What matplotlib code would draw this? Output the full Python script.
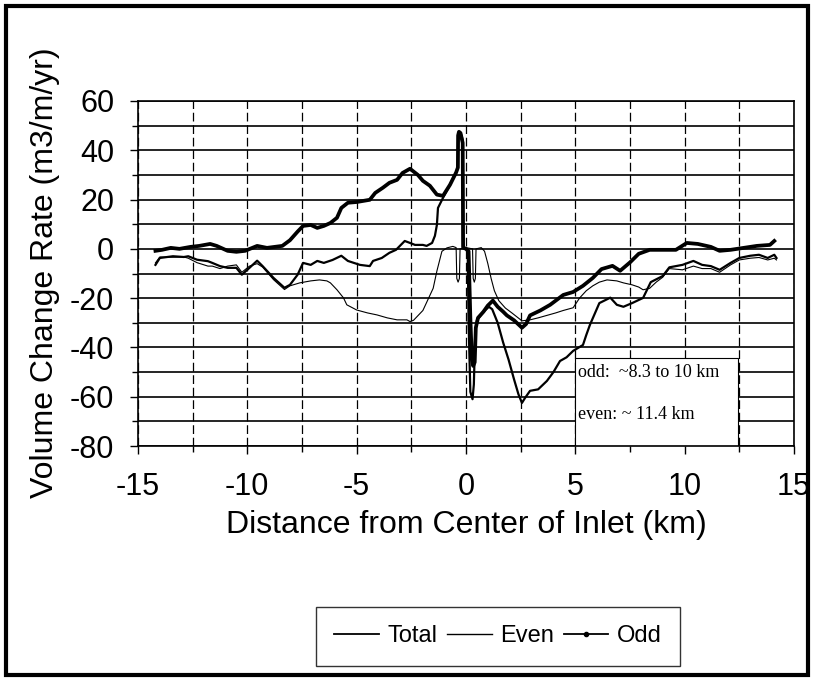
import matplotlib.pyplot as plt
from matplotlib.patches import Rectangle
from matplotlib.lines import Line2D
from matplotlib.ticker import MultipleLocator

plt.rcParams['font.family'] = ['Liberation Sans', 'DejaVu Sans']
plt.rcParams['axes.unicode_minus'] = False

# valores (km, m3/m/yr)
odd_x = [-14.2, -13.9, -13.5, -13.1, -12.6, -12.2, -11.7, -11.4, -10.9, -10.5,
         -10.1, -9.55, -9.1, -8.4, -8.05, -7.7, -7.45, -7.1, -6.8, -6.5,
         -6.2, -5.9, -5.7, -5.4, -5.0, -4.4, -4.15, -3.8, -3.5, -3.15,
         -2.9, -2.56, -2.2, -1.97, -1.65, -1.33, -1.05, -0.73, -0.45, -0.37,
         -0.36, -0.32, -0.25, -0.2, -0.15, -0.13, 0.0, 0.12, 0.2, 0.27,
         0.33, 0.4, 0.45, 0.55, 0.8, 1.0, 1.23, 1.45, 1.7, 1.87,
         2.2, 2.56, 2.75, 2.93, 3.4, 3.85, 4.45, 4.9, 5.35, 5.8,
         6.2, 6.7, 7.05, 7.5, 7.9, 8.4, 9.0, 9.6, 10.1, 10.6,
         11.2, 11.6, 12.1, 12.7, 13.3, 13.9, 14.1]
odd_y = [-0.8, -0.4, 0.4, 0.0, 0.8, 1.2, 2.0, 1.2, -0.8, -1.2,
         -0.8, 1.2, 0.4, 1.2, 3.5, 7.0, 9.3, 9.7, 8.5, 9.3,
         10.5, 12.6, 16.6, 18.7, 19.0, 19.9, 22.7, 24.8, 26.8, 28.0,
         30.8, 32.5, 30.0, 27.6, 25.6, 22.0, 21.5, 26.0, 31.0, 33.0,
         46.0, 47.5, 47.0, 45.0, 43.0, 0.5, 0.0, -1.0, -28.0, -45.0,
         -47.5, -46.0, -32.0, -28.0, -25.5, -23.0, -21.0, -23.5, -25.5, -27.0,
         -29.0, -32.0, -30.5, -27.0, -25.0, -22.7, -18.7, -17.5, -15.0, -11.8,
         -8.2, -6.9, -8.9, -5.5, -2.0, -0.4, -0.4, -0.4, 2.4, 2.0,
         0.8, -0.8, -0.4, 0.4, 1.2, 1.6, 3.2]

even_x = [-14.2, -14.0, -13.4, -12.9, -12.7, -12.3, -11.8, -11.6, -11.25, -10.9,
          -10.5, -10.25, -9.9, -9.55, -9.3, -8.8, -8.3, -8.05, -7.6, -7.1,
          -6.7, -6.36, -6.2, -5.9, -5.6, -5.45, -5.0, -4.5, -4.07, -3.6,
          -3.15, -2.7, -2.56, -2.4, -1.97, -1.5, -1.33, -1.1, -0.87, -0.6,
          -0.45, -0.42, -0.36, -0.3, -0.27, 0.0, 0.3, 0.33, 0.38, 0.43,
          0.46, 0.7, 0.85, 1.0, 1.15, 1.3, 1.5, 1.8, 2.1, 2.56,
          2.93, 3.3, 3.7, 4.1, 4.45, 4.9, 5.2, 5.5, 5.8, 6.1,
          6.45, 6.9, 7.2, 7.6, 7.9, 8.1, 8.4, 8.7, 9.0, 9.3,
          9.9, 10.4, 10.8, 11.2, 11.6, 12.1, 12.5, 13.0, 13.4, 13.8,
          14.1, 14.2]
even_y = [-5.7, -3.3, -3.4, -3.3, -3.8, -5.6, -7.0, -7.0, -8.0, -7.0,
          -6.5, -9.5, -7.0, -6.0, -7.4, -12.5, -16.5, -15.0, -13.8, -13.0,
          -12.6, -13.0, -13.8, -16.6, -19.9, -22.7, -24.8, -26.0, -26.8, -28.0,
          -28.8, -28.8, -29.5, -29.0, -25.0, -16.0, -9.0, -1.0, 0.4, 1.0,
          0.5, -12.0, -13.5, -12.0, 0.0, 0.5, 0.0, -12.0, -13.5, -12.0,
          0.0, 0.5, -1.0, -6.0, -12.0, -17.0, -21.0, -24.0, -26.0, -29.2,
          -28.8, -28.0, -27.0, -26.0, -25.0, -23.9, -19.9, -17.0, -15.0, -13.5,
          -12.6, -13.0, -13.8, -14.6, -15.5, -16.6, -16.0, -13.5, -11.5, -8.0,
          -8.5, -7.0, -8.0, -8.0, -9.5, -6.5, -4.5, -3.8, -3.5, -4.5,
          -3.8, -4.5]

total_x = [-14.2, -14.0, -13.4, -12.9, -12.7, -12.3, -11.8, -11.6, -11.25, -10.9,
           -10.5, -10.25, -9.9, -9.55, -9.3, -8.8, -8.3, -8.05, -7.7, -7.45,
           -7.1, -6.8, -6.5, -6.1, -5.7, -5.4, -4.85, -4.4, -4.25, -3.85,
           -3.5, -3.2, -2.8, -2.56, -2.33, -1.97, -1.8, -1.55, -1.42, -1.33,
           -1.28, -1.05, -0.73, -0.45, -0.37, -0.36, -0.3, -0.2, -0.15, -0.14,
           0.0, 0.08, 0.12, 0.2, 0.3, 0.36, 0.42, 0.5, 0.8, 1.05,
           1.2, 1.45, 1.7, 1.95, 2.2, 2.4, 2.56, 2.7, 2.93, 3.3,
           3.7, 4.0, 4.3, 4.6, 4.9, 5.35, 5.5, 5.67, 6.1, 6.6,
           6.9, 7.2, 7.6, 8.1, 8.45, 9.0, 9.3, 9.9, 10.4, 10.8,
           11.2, 11.6, 12.1, 12.5, 13.0, 13.4, 13.8, 14.1, 14.2]
total_y = [-6.5, -3.7, -3.0, -3.3, -3.0, -4.4, -5.0, -5.7, -7.0, -7.7,
           -7.7, -10.5, -7.7, -4.8, -7.0, -11.8, -15.8, -14.6, -10.5, -5.7,
           -6.5, -4.9, -5.7, -4.5, -2.8, -4.9, -6.5, -7.0, -4.9, -3.7,
           -1.6, -0.4, 3.2, 2.4, 1.6, 1.6, 1.2, 2.4, 5.3, 9.7,
           16.6, 20.7, 26.0, 31.0, 33.0, 46.0, 47.0, 46.0, 44.0, 1.0,
           0.0, -1.0, -30.0, -58.0, -61.0, -55.0, -35.0, -29.0, -25.5, -23.5,
           -24.5, -30.0, -38.0, -45.0, -53.0, -59.0, -62.5, -60.5, -57.6, -57.0,
           -53.6, -50.0, -45.5, -44.0, -41.4, -39.0, -35.0, -30.8, -22.0, -19.8,
           -22.7, -23.5, -22.0, -19.9, -13.5, -11.0, -7.5, -6.5, -4.9, -6.5,
           -7.0, -8.5, -5.7, -3.7, -2.8, -2.4, -3.7, -2.4, -3.7]

x_ticks = [-15, -10, -5, 0, 5, 10, 15]
y_ticks = [-80, -60, -40, -20, 0, 20, 40, 60]

fig = plt.figure(figsize=(8.13, 6.79), dpi=100)
ax = fig.add_axes([0.1697, 0.3431, 0.8069, 0.5082])

ax.plot(even_x, even_y, color='black', lw=0.8, zorder=3)
ax.plot(total_x, total_y, color='black', lw=1.6, zorder=4)
ax.plot(odd_x, odd_y, color='black', lw=2.7, zorder=5, solid_joinstyle='round')

ax.set_xlim(-15, 15)
ax.set_ylim(-80, 60)
ax.set_xticks(x_ticks)
ax.set_yticks(y_ticks)
ax.xaxis.set_minor_locator(MultipleLocator(2.5))
ax.yaxis.set_minor_locator(MultipleLocator(10))
ax.grid(which='both', axis='y', color='black', lw=1.2)
ax.grid(which='both', axis='x', color='black', lw=0.9, linestyle=(0, (7, 3)))
ax.tick_params(axis='both', which='major', labelsize=22, length=6, width=1, direction='out')
ax.tick_params(axis='y', which='major', pad=11)
ax.tick_params(axis='x', which='major', pad=13)
ax.tick_params(axis='both', which='minor', length=4, width=1)
for s in ax.spines.values():
    s.set_linewidth(1.2)

# caixa com as distancias
ax.add_patch(Rectangle((5, -80), 7.45, 35.8, facecolor='white', edgecolor='black', lw=0.8, zorder=1.8))
ax.text(5.12, -50.3, 'odd:  ~8.3 to 10 km', family='Liberation Serif', fontsize=13, va='center', zorder=2.5)
ax.text(5.12, -67.4, 'even: ~ 11.4 km', family='Liberation Serif', fontsize=13, va='center', zorder=2.5)

fig.text(466 / 813, 1 - 525 / 679, 'Distance from Center of Inlet (km)', fontsize=23, ha='center', va='center')
fig.text(45 / 813, 1 - 273 / 679, 'Volume Change Rate (m3/m/yr)', fontsize=23, ha='center', va='center', rotation=90)

handles = [Line2D([], [], color='black', lw=1.3),
           Line2D([], [], color='black', lw=1.0),
           Line2D([], [], color='black', lw=1.3, marker='o', markersize=3)]
leg = fig.legend(handles, ['Total', 'Even', 'Odd'], loc='center', bbox_to_anchor=(498 / 813, 1 - 636.5 / 679),
                 ncol=3, fontsize=17, frameon=True, fancybox=False, edgecolor='black',
                 handlelength=1.9, handletextpad=0.35, columnspacing=0.4, borderpad=0.8, numpoints=1)
leg.get_frame().set_linewidth(1.0)

fig.patches.append(Rectangle((6 / 813, 4 / 679), 802 / 813, 669 / 679, transform=fig.transFigure,
                             fill=False, edgecolor='black', lw=3))

plt.savefig('out.png', dpi=100)
plt.close()
